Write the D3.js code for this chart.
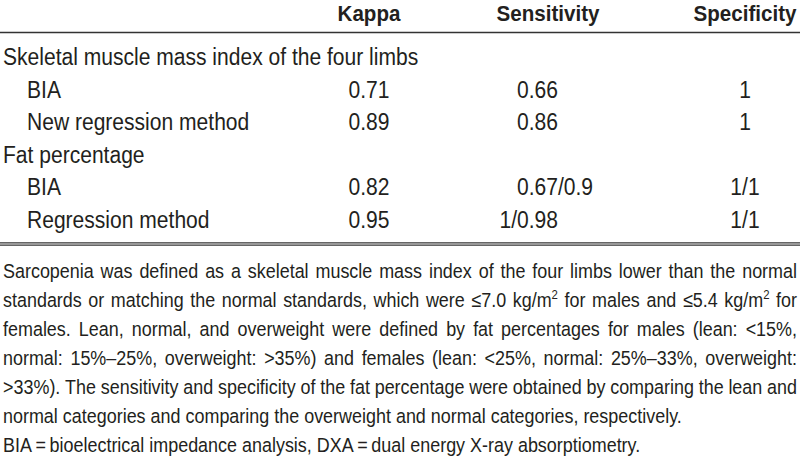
<!DOCTYPE html>
<html>
<head>
<meta charset="utf-8">
<script src="https://cdn.jsdelivr.net/npm/d3@7"></script>
<style>
  html, body { margin: 0; padding: 0; background: #fff; }
  svg { display: block; }
</style>
</head>
<body>
<svg id="chart" width="800" height="459"></svg>
<script>
// ---------- data ----------
const headers = ["Kappa", "Sensitivity", "Specificity"];
const groups = ["Skeletal muscle mass index of the four limbs", "Fat percentage"];
const methods = ["BIA", "New regression method", "BIA", "Regression method"];
const kappa = ["0.71", "0.89", "0.82", "0.95"];
const sensitivity = ["0.66", "0.86", "0.67/0.9", "1/0.98"];
const specificity = ["1", "1", "1/1", "1/1"];
const footnoteLines = [
  "Sarcopenia was defined as a skeletal muscle mass index of the four limbs lower than the normal",
  "standards or matching the normal standards, which were \u22647.0 kg/m^2 for males and \u22645.4 kg/m^2 for",
  "females. Lean, normal, and overweight were defined by fat percentages for males (lean: <15%,",
  "normal: 15%\u201325%, overweight: >35%) and females (lean: <25%, normal: 25%\u201333%, overweight:",
  ">33%). The sensitivity and specificity of the fat percentage were obtained by comparing the lean and",
  "normal categories and comparing the overweight and normal categories, respectively.",
  "BIA\u2009=\u2009bioelectrical impedance analysis, DXA\u2009=\u2009dual energy X-ray absorptiometry."
];
const justified = [true, true, true, true, true, false, false];

// ---------- layout / style ----------
const W = 800, H = 459;
const FONT = "'Liberation Sans', Arial, sans-serif";
const SQ_HEAD = 0.935, SQ_BODY = 0.915, SQ_FOOT = 0.875;   // emulate a condensed face
const TEXT = "#231f20";
const svg = d3.select("#chart");

function squeeze(f) {
  return sel => sel.each(function () {
    const w = this.getComputedTextLength();
    d3.select(this).attr("textLength", w * f).attr("lengthAdjust", "spacingAndGlyphs");
  });
}

// table rows: group, method, method, group, method, method
const rows = [];
let mi = 0;
groups.forEach(g => {
  rows.push({type: "group", label: g});
  for (let k = 0; k < 2; k++) {
    rows.push({type: "method", label: methods[mi], kappa: kappa[mi], sens: sensitivity[mi], spec: specificity[mi]});
    mi++;
  }
});

const y = d3.scaleLinear().domain([0, rows.length - 1]).range([65, 228]);
const colX = d3.scaleOrdinal().domain(headers).range([369, 548, 745]);

// header
svg.append("g").selectAll("text").data(headers).join("text")
  .attr("x", d => colX(d)).attr("y", 21)
  .attr("text-anchor", "middle")
  .attr("font-family", FONT).attr("font-weight", "bold").attr("font-size", 22)
  .attr("fill", TEXT).text(d => d)
  .call(squeeze(SQ_HEAD));

// rules
svg.append("line").attr("x1", 0).attr("x2", W).attr("y1", 32.5).attr("y2", 32.5)
  .attr("stroke", "#333").attr("stroke-width", 1.5);
svg.append("line").attr("x1", 0).attr("x2", W).attr("y1", 242.8).attr("y2", 242.8)
  .attr("stroke", "#333").attr("stroke-width", 1.2);
svg.append("line").attr("x1", 0).attr("x2", W).attr("y1", 245.2).attr("y2", 245.2)
  .attr("stroke", "#333").attr("stroke-width", 1.2);

// body rows
const body = svg.append("g").attr("font-family", FONT).attr("font-size", 23).attr("fill", TEXT);
const sq = squeeze(SQ_BODY);
rows.forEach((r, i) => {
  body.append("text").attr("x", r.type === "group" ? 3 : 27).attr("y", y(i)).text(r.label).call(sq);
  if (r.type === "method") {
    body.append("text").attr("x", colX("Kappa")).attr("y", y(i)).attr("text-anchor", "middle").text(r.kappa).call(sq);
    const startAligned = r.sens.startsWith("0.");
    body.append("text").attr("x", startAligned ? 517 : 558).attr("y", y(i))
      .attr("text-anchor", startAligned ? "start" : "end").text(r.sens).call(sq);
    body.append("text").attr("x", colX("Specificity")).attr("y", y(i)).attr("text-anchor", "middle").text(r.spec).call(sq);
  }
});

// footnote (justified, word by word)
const FS = 20.5;
const fy = d3.scaleLinear().domain([0, footnoteLines.length - 1]).range([278, 452]);
const foot = svg.append("g").attr("font-family", FONT).attr("font-size", FS).attr("fill", TEXT);
const left = 3, right = 797;
function addWord(g, word) {
  const t = g.append("text").attr("lengthAdjust", "spacingAndGlyphs");
  word.split(/(\^\d)/).forEach(p => {
    if (!p) return;
    if (p.startsWith("^")) {
      t.append("tspan").attr("dy", -8).attr("font-size", 13).text(p.slice(1));
      t.append("tspan").attr("dy", 8).text("");
    } else {
      t.append("tspan").text(p);
    }
  });
  return t;
}
footnoteLines.forEach((line, i) => {
  const words = line.split(" ");
  const g = foot.append("g");
  const nodes = words.map(w => addWord(g, w));
  const widths = nodes.map(n => n.node().getComputedTextLength() * SQ_FOOT);
  nodes.forEach((n, k) => n.attr("textLength", widths[k]));
  const total = d3.sum(widths);
  const spaceW = justified[i] ? (right - left - total) / (words.length - 1) : FS * 0.278 * SQ_FOOT;
  let x = left;
  nodes.forEach((n, k) => {
    n.attr("x", x).attr("y", fy(i));
    x += widths[k] + spaceW;
  });
});
</script>
</body>
</html>
